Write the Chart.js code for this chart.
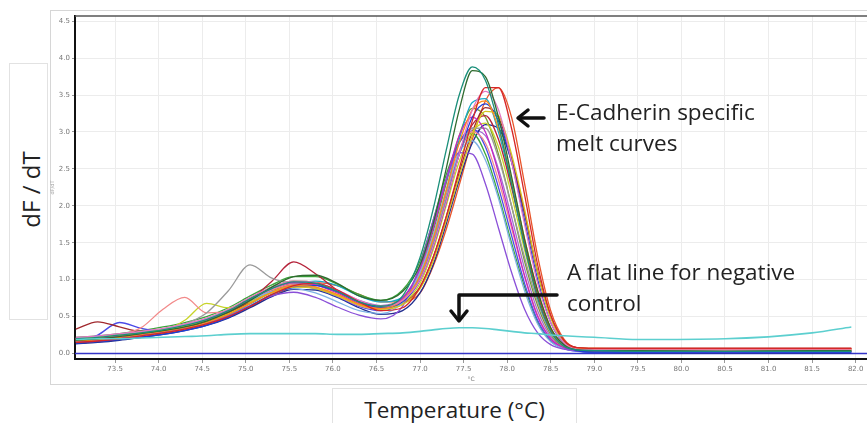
<!DOCTYPE html>
<html>
<head>
<meta charset="utf-8">
<script src="https://cdn.jsdelivr.net/npm/chart.js@4.4.0/dist/chart.umd.min.js"></script>
<style>
body{margin:0;background:#fff;width:867px;height:423px;overflow:hidden;position:relative;font-family:"Open Sans",sans-serif;}
#frame{position:absolute;left:50px;top:10px;width:840px;height:373px;border:1px solid #d6d6d6;}
#myChart{position:absolute;left:0;top:0;}
.box{position:absolute;background:#fff;border:1px solid #e2e2e2;}
.note{position:absolute;font-size:22.5px;color:#222;line-height:31px;white-space:nowrap;}
svg{position:absolute;left:0;top:0;}
</style>
</head>
<body>
<div id="frame"></div>
<canvas id="myChart" width="867" height="423"></canvas>

<div class="box" style="left:9px;top:63px;width:37px;height:255px;"></div>
<div class="note" style="left:-42px;top:174px;width:144px;text-align:center;transform:rotate(-90deg);font-size:24px;">dF / dT</div>

<div class="box" style="left:332px;top:388px;width:243px;height:45px;"></div>
<div class="note" style="left:332px;top:394px;width:245px;text-align:center;font-size:22.5px;">Temperature (°C)</div>

<div class="note" style="left:556px;top:96px;">E-Cadherin specific<br>melt curves</div>
<div class="note" style="left:567px;top:256px;">A flat line for negative<br>control</div>

<svg width="867" height="423">
  <g stroke="#111" stroke-width="3.5" fill="none" stroke-linecap="round" stroke-linejoin="round">
    <line x1="544" y1="118" x2="519" y2="118"/>
    <polyline points="528,110 518,118 528,126"/>
    <polyline points="557,295 459,295 459,320"/>
    <polyline points="451,311 459,321 467,311"/>
  </g>
</svg>

<script>
// temperatures (°C) where values were read
const temps = [73.05, 73.3, 73.55, 73.8, 74.05, 74.3, 74.55, 74.8, 75.05, 75.3, 75.55, 75.8, 76.05, 76.3, 76.55, 76.8,
  77.0, 77.15, 77.3, 77.45, 77.6, 77.75, 77.9, 78.05, 78.2, 78.35, 78.5, 78.65, 78.8,
  79.0, 79.5, 80.5, 81.5, 81.95];

// sample melt curves (dF/dT)
const wellA = [0.2,0.22,0.25,0.28,0.32,0.38,0.46,0.58,0.74,0.88,0.97,0.95,0.84,0.7,0.64,0.78, 1.3,1.95,2.75,3.5,3.88,3.7,3.1,2.3,1.45,0.75,0.3,0.1,0.05, 0.04,0.03,0.03,0.03,0.03];
const wellB = [0.18,0.2,0.23,0.27,0.31,0.36,0.44,0.56,0.72,0.9,1.04,1.06,0.95,0.78,0.72,0.84, 1.2,1.75,2.5,3.3,3.83,3.75,3.2,2.4,1.55,0.85,0.35,0.12,0.05, 0.04,0.04,0.03,0.04,0.04];
const wellC = [0.15,0.17,0.2,0.24,0.28,0.33,0.4,0.5,0.64,0.8,0.92,0.95,0.86,0.7,0.58,0.62, 0.9,1.3,1.85,2.5,3.15,3.6,3.6,3.05,2.15,1.2,0.52,0.18,0.08, 0.07,0.07,0.07,0.07,0.07];
const wellD = [0.22,0.24,0.27,0.3,0.34,0.4,0.48,0.6,0.76,0.9,0.98,0.96,0.86,0.72,0.64,0.72, 1.0,1.45,2.05,2.7,3.3,3.55,3.3,2.6,1.75,0.95,0.42,0.15,0.06, 0.05,0.05,0.05,0.05,0.05];
const wellE = [0.17,0.19,0.22,0.26,0.3,0.35,0.42,0.53,0.68,0.83,0.92,0.9,0.8,0.67,0.61,0.72, 1.05,1.55,2.2,2.85,3.3,3.42,3.05,2.35,1.55,0.85,0.35,0.12,0.07, 0.07,0.06,0.06,0.06,0.06];
const wellF = [0.2,0.22,0.25,0.28,0.32,0.37,0.44,0.54,0.68,0.82,0.9,0.88,0.78,0.66,0.6,0.66, 0.88,1.25,1.8,2.4,2.95,3.28,3.22,2.7,1.95,1.1,0.48,0.16,0.06, 0.05,0.05,0.05,0.05,0.05];
const wellG = [0.14,0.16,0.19,0.22,0.26,0.31,0.38,0.49,0.64,0.8,0.9,0.92,0.84,0.7,0.62,0.7, 1.0,1.45,2.05,2.7,3.2,3.38,3.15,2.6,1.8,1.0,0.42,0.14,0.04, 0.02,0.02,0.02,0.02,0.02];
const wellH = [0.16,0.18,0.21,0.25,0.29,0.34,0.41,0.51,0.65,0.78,0.83,0.76,0.63,0.52,0.47,0.64, 1.2,1.8,2.35,2.72,2.7,2.3,1.7,1.1,0.6,0.28,0.12,0.06,0.04, 0.03,0.03,0.02,0.03,0.03];
const wellI = [0.19,0.21,0.24,0.27,0.31,0.37,0.45,0.57,0.73,0.88,0.96,0.93,0.82,0.68,0.62,0.75, 1.15,1.7,2.35,2.95,3.2,3.0,2.45,1.75,1.05,0.5,0.2,0.08,0.04, 0.03,0.03,0.03,0.03,0.03];
const wellJ = [0.21,0.23,0.26,0.29,0.33,0.39,0.47,0.58,0.72,0.84,0.88,0.82,0.7,0.58,0.54,0.7, 1.1,1.6,2.2,2.72,2.88,2.62,2.1,1.45,0.85,0.4,0.16,0.07,0.04, 0.03,0.03,0.03,0.03,0.03];
const wellK = [0.18,0.2,0.23,0.27,0.32,0.4,0.55,0.85,1.2,1.02,0.95,0.93,0.83,0.69,0.62,0.7, 1.0,1.5,2.1,2.7,3.05,3.05,2.65,2.0,1.3,0.7,0.28,0.1,0.05, 0.04,0.04,0.04,0.04,0.04];
const wellL = [0.19,0.21,0.24,0.27,0.31,0.36,0.44,0.56,0.72,0.98,1.24,1.08,0.86,0.7,0.63,0.72, 1.0,1.45,2.05,2.7,3.1,3.22,2.9,2.25,1.5,0.8,0.33,0.12,0.07, 0.06,0.06,0.06,0.06,0.06];
const wellM = [0.2,0.22,0.25,0.35,0.6,0.76,0.55,0.58,0.72,0.86,0.94,0.9,0.78,0.65,0.6,0.72, 1.1,1.6,2.2,2.75,3.0,2.85,2.35,1.7,1.05,0.52,0.2,0.08,0.05, 0.05,0.04,0.04,0.04,0.04];
const wellN = [0.17,0.19,0.22,0.25,0.3,0.45,0.68,0.62,0.7,0.84,0.92,0.9,0.8,0.67,0.6,0.68, 0.95,1.4,2.0,2.6,3.0,3.12,2.8,2.15,1.4,0.75,0.3,0.1,0.05, 0.04,0.04,0.04,0.04,0.04];
const wellO = [0.33,0.43,0.36,0.3,0.32,0.37,0.44,0.55,0.7,0.85,0.94,0.93,0.84,0.7,0.62,0.68, 0.9,1.3,1.85,2.45,3.0,3.33,3.2,2.65,1.9,1.1,0.5,0.17,0.08, 0.07,0.07,0.07,0.07,0.07];
const wellP = [0.15,0.25,0.42,0.34,0.3,0.35,0.43,0.54,0.7,0.84,0.92,0.88,0.77,0.64,0.58,0.72, 1.15,1.7,2.35,2.85,3.05,2.8,2.25,1.6,0.95,0.45,0.18,0.07,0.03, 0.02,0.02,0.02,0.02,0.02];
const wellQ = [0.22,0.24,0.27,0.31,0.36,0.42,0.5,0.62,0.78,0.93,1.04,1.04,0.94,0.8,0.72,0.86, 1.25,1.8,2.42,2.86,2.98,2.7,2.15,1.5,0.9,0.42,0.17,0.07,0.04, 0.03,0.03,0.03,0.03,0.03];
const wellR = [0.16,0.18,0.21,0.25,0.29,0.34,0.41,0.52,0.67,0.83,0.94,0.98,0.92,0.78,0.7,0.76, 1.05,1.55,2.2,2.9,3.4,3.45,3.0,2.3,1.5,0.8,0.33,0.12,0.04, 0.03,0.03,0.03,0.03,0.03];
const wellS = [0.13,0.15,0.18,0.22,0.26,0.31,0.38,0.48,0.62,0.77,0.87,0.86,0.76,0.62,0.53,0.58, 0.82,1.2,1.75,2.35,2.85,3.1,3.05,2.6,1.9,1.1,0.5,0.17,0.04, 0.02,0.01,0.01,0.01,0.01];
const wellT = [0.2,0.22,0.25,0.29,0.33,0.39,0.47,0.59,0.75,0.9,0.98,0.96,0.85,0.7,0.64,0.76, 1.1,1.65,2.3,2.95,3.32,3.2,2.7,2.0,1.25,0.65,0.26,0.09,0.05, 0.05,0.05,0.05,0.05,0.05];
const wellU = [0.17,0.19,0.22,0.26,0.3,0.36,0.44,0.55,0.7,0.85,0.95,0.95,0.86,0.72,0.65,0.74, 1.05,1.55,2.15,2.7,3.02,2.95,2.5,1.85,1.15,0.58,0.23,0.09,0.04, 0.03,0.03,0.03,0.03,0.03];
const wellV = [0.14,0.16,0.19,0.23,0.27,0.32,0.39,0.49,0.63,0.78,0.9,0.96,0.92,0.8,0.7,0.7, 0.82,1.18,1.68,2.28,2.9,3.42,3.6,3.2,2.3,1.32,0.58,0.2,0.08, 0.07,0.07,0.07,0.07,0.07];

const wells = [wellA, wellB, wellC, wellD, wellE, wellF, wellG, wellH, wellI, wellJ, wellK,
  wellL, wellM, wellN, wellO, wellP, wellQ, wellR, wellS, wellT, wellU, wellV];
const wellColors = ['#1a8f7a','#2f6b2f','#d62728','#e377c2','#ff8c1a','#d4c21f','#1f3fd6','#8a4fd8','#c425c4','#7fb2e5','#9a9a9a',
  '#b5233a','#f28a8a','#c8d42a','#a0282d','#4a4ae8','#3aa63a','#16a9c9','#232f8f','#7a9a30','#a070d0','#e8542a'];

// negative control
const negControl = [0.19,0.2,0.2,0.21,0.22,0.23,0.24,0.26,0.27,0.27,0.27,0.27,0.26,0.26,0.27,0.28, 0.3,0.32,0.34,0.35,0.35,0.34,0.32,0.3,0.28,0.27,0.25,0.24,0.23, 0.22,0.19,0.2,0.28,0.36];

// flat blank line at zero
const blankTemps = [73.0, 82.2];
const blankValues = [0, 0];

const xTickStep = 0.5;
const yTickStep = 0.5;

function toPoints(xs, ys) {
  return xs.map(function (x, i) { return {x: x, y: ys[i]}; });
}

let datasets = [];
datasets.push({
  data: toPoints(temps, negControl),
  borderColor: '#5ccfcf',
  borderWidth: 1.6
});
wells.forEach(function (w, i) {
  datasets.push({
    data: toPoints(temps, w),
    borderColor: wellColors[i],
    borderWidth: 1.3
  });
});
datasets.push({
  data: toPoints(blankTemps, blankValues),
  borderColor: '#3434c8',
  borderWidth: 1.4
});

const topBorder = {
  id: 'topBorder',
  afterDraw(chart) {
    const ctx = chart.ctx, a = chart.chartArea;
    ctx.save();
    ctx.strokeStyle = '#555';
    ctx.lineWidth = 1.5;
    ctx.beginPath();
    ctx.moveTo(a.left, a.top);
    ctx.lineTo(a.right, a.top);
    ctx.stroke();
    ctx.restore();
  }
};

let ctx = document.getElementById('myChart').getContext('2d');
let chart = new Chart(ctx, {
  type: 'line',
  data: { datasets: datasets },
  plugins: [topBorder],
  options: {
    responsive: false,
    animation: false,
    layout: { padding: { left: 50, top: 16, right: 0, bottom: 40 } },
    elements: {
      point: { radius: 0 },
      line: { cubicInterpolationMode: 'monotone', fill: false }
    },
    plugins: { legend: { display: false }, tooltip: { enabled: false } },
    scales: {
      x: {
        type: 'linear',
        min: 73.04,
        max: 82.13,
        afterFit: function (scale) { scale.height = 24; },
        border: { color: '#111', width: 2 },
        grid: { color: '#ececec', tickLength: 4, tickColor: '#999' },
        ticks: {
          stepSize: xTickStep,
          includeBounds: false,
          maxRotation: 0,
          autoSkip: false,
          color: '#777',
          font: { size: 7, family: 'DejaVu Sans' },
          padding: 2,
          callback: function (v) { return Number(v).toFixed(1); }
        },
        title: { display: true, text: '°C', color: '#777', font: { size: 6, family: 'DejaVu Sans' }, padding: 0 }
      },
      y: {
        min: -0.074,
        max: 4.57,
        afterFit: function (scale) { scale.width = 25; },
        border: { color: '#111', width: 2 },
        grid: { color: '#ececec', tickLength: 3, tickColor: '#999' },
        ticks: {
          stepSize: yTickStep,
          includeBounds: false,
          color: '#777',
          font: { size: 7, family: 'DejaVu Sans' },
          padding: 2,
          callback: function (v) { return Number(v).toFixed(1); }
        },
        title: { display: true, text: 'dF/dT', color: '#aaa', font: { size: 5, family: 'DejaVu Sans' }, padding: 0 }
      }
    }
  }
});
</script>
</body>
</html>
